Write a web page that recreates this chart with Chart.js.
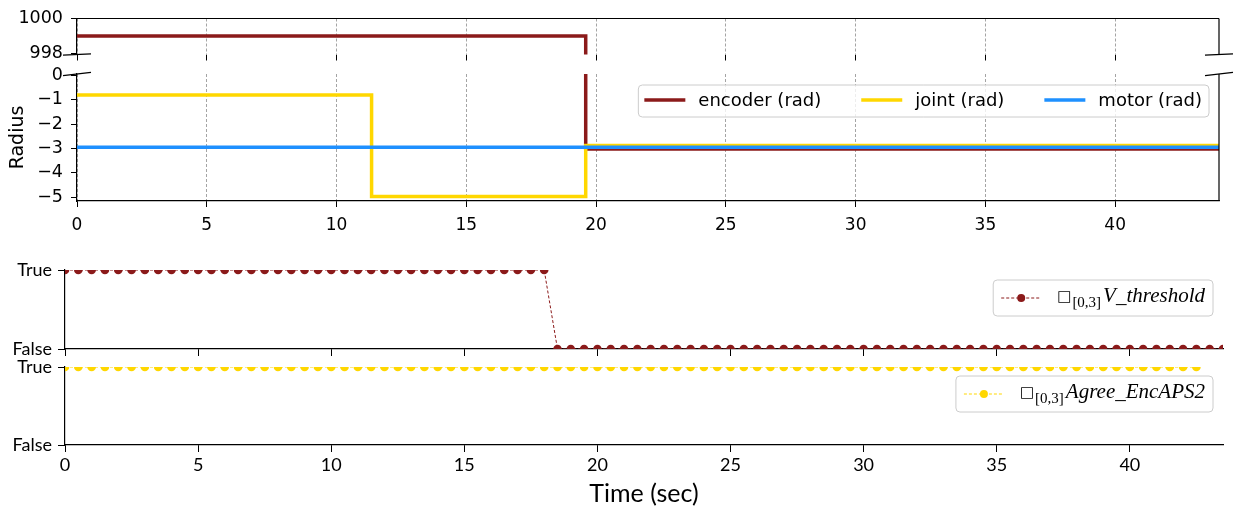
<!DOCTYPE html>
<html>
<head>
<meta charset="utf-8">
<script src="https://cdn.jsdelivr.net/npm/chart.js@4/dist/chart.umd.min.js"></script>
<style>
html, body { margin: 0; padding: 0; background: #fff; }
#wrap { position: relative; width: 1241px; height: 514px; }
#wrap div { position: absolute; left: 0; top: 0; width: 1241px; height: 514px; }
</style>
</head>
<body>
<div id="wrap">
  <div><canvas id="breakTop"></canvas></div>
  <div><canvas id="radius"></canvas></div>
  <div><canvas id="vThresh"></canvas></div>
  <div><canvas id="agree"></canvas></div>
</div>
<script>
// radius traces, values change at the listed times (sec)
var encoderTime = [0, 19.6, 44];
var encoderRad = [999.0, -3.02, -3.02];
var jointTime = [0, 11.35, 19.6, 44];
var jointRad = [-0.81, -4.97, -2.88, -2.88];
var motorTime = [0, 44];
var motorRad = [-2.95, -2.95];
var radiusLabels = ['encoder (rad)', 'joint (rad)', 'motor (rad)'];

var timeTicks = [0, 5, 10, 15, 20, 25, 30, 35, 40];
var radiusTicks = [-5, -4, -3, -2, -1, 0];
var breakTicks = [998, 1000];
var boolTicks = [0, 1];
var boolLabels = ['False', 'True'];

// monitor samples
var sampleTimes = [
  0, 0.5, 1, 1.5, 2, 2.5, 3, 3.5, 4, 4.5,
  5, 5.5, 6, 6.5, 7, 7.5, 8, 8.5, 9, 9.5,
  10, 10.5, 11, 11.5, 12, 12.5, 13, 13.5, 14, 14.5,
  15, 15.5, 16, 16.5, 17, 17.5, 18, 18.5, 19, 19.5,
  20, 20.5, 21, 21.5, 22, 22.5, 23, 23.5, 24, 24.5,
  25, 25.5, 26, 26.5, 27, 27.5, 28, 28.5, 29, 29.5,
  30, 30.5, 31, 31.5, 32, 32.5, 33, 33.5, 34, 34.5,
  35, 35.5, 36, 36.5, 37, 37.5, 38, 38.5, 39, 39.5,
  40, 40.5, 41, 41.5, 42, 42.5, 43, 43.5
];
var vThreshold = [
  1, 1, 1, 1, 1, 1, 1, 1, 1, 1,
  1, 1, 1, 1, 1, 1, 1, 1, 1, 1,
  1, 1, 1, 1, 1, 1, 1, 1, 1, 1,
  1, 1, 1, 1, 1, 1, 1, 0, 0, 0,
  0, 0, 0, 0, 0, 0, 0, 0, 0, 0,
  0, 0, 0, 0, 0, 0, 0, 0, 0, 0,
  0, 0, 0, 0, 0, 0, 0, 0, 0, 0,
  0, 0, 0, 0, 0, 0, 0, 0, 0, 0,
  0, 0, 0, 0, 0, 0, 0, 0
];
var agreeEncAPS2 = [
  1, 1, 1, 1, 1, 1, 1, 1, 1, 1,
  1, 1, 1, 1, 1, 1, 1, 1, 1, 1,
  1, 1, 1, 1, 1, 1, 1, 1, 1, 1,
  1, 1, 1, 1, 1, 1, 1, 1, 1, 1,
  1, 1, 1, 1, 1, 1, 1, 1, 1, 1,
  1, 1, 1, 1, 1, 1, 1, 1, 1, 1,
  1, 1, 1, 1, 1, 1, 1, 1, 1, 1,
  1, 1, 1, 1, 1, 1, 1, 1, 1, 1,
  1, 1, 1, 1, 1, 1
];
var propNames = ['V_threshold', 'Agree_EncAPS2'];
var boxInterval = '[0,3]';

var RED = '#8b1a1a', GOLD = '#ffd700', BLUE = '#1e90ff';
var W = 1241, H = 514;
var DV = '"DejaVu Sans"', LATO = 'Lato';

Chart.defaults.font.family = DV;
Chart.defaults.color = '#000';

function pts(t, v) {
  return t.map(function (x, i) { return { x: x, y: v[i] }; });
}
function fixTicks(list) {
  return function (s) { s.ticks = list.map(function (v) { return { value: v }; }); };
}
function plain(v) { return String(v).replace('-', '\u2212'); }

function roundBox(ctx, x, y, w, h) {
  ctx.beginPath();
  ctx.roundRect(x, y, w, h, 4);
  ctx.fillStyle = 'rgba(255,255,255,0.8)';
  ctx.fill();
  ctx.strokeStyle = '#cccccc';
  ctx.lineWidth = 1;
  ctx.stroke();
}

// extra spines (top / right)
var framePlugin = {
  id: 'frame',
  afterDraw: function (chart, args, opts) {
    var a = chart.chartArea, ctx = chart.ctx;
    ctx.save();
    ctx.strokeStyle = '#000';
    ctx.lineWidth = 1.2;
    ctx.beginPath();
    if (opts.top) { ctx.moveTo(a.left, a.top); ctx.lineTo(a.right, a.top); }
    if (opts.right) { ctx.moveTo(a.right, a.top); ctx.lineTo(a.right, a.bottom); }
    ctx.stroke();
    ctx.restore();
  }
};

// diagonal marks for the broken y axis
var breakPlugin = {
  id: 'breakMarks',
  afterDraw: function (chart, args, opts) {
    var a = chart.chartArea, ctx = chart.ctx;
    var y = opts.edge === 'bottom' ? a.bottom : a.top;
    ctx.save();
    ctx.strokeStyle = '#000';
    ctx.lineWidth = 1.3;
    [a.left, a.right].forEach(function (x) {
      ctx.beginPath();
      ctx.moveTo(x - 14, y + opts.dy);
      ctx.lineTo(x + 14, y - opts.dy);
      ctx.stroke();
    });
    ctx.restore();
  }
};

var lineLegend = {
  id: 'lineLegend',
  afterDraw: function (chart) {
    var ctx = chart.ctx, a = chart.chartArea;
    var sets = chart.data.datasets;
    ctx.save();
    ctx.font = '18px ' + DV;
    var sample = 41, gap = 13, colGap = 40, padL = 6, padR = 7;
    var widths = sets.map(function (s) { return ctx.measureText(s.label).width; });
    var total = padL + padR + colGap * (sets.length - 1);
    widths.forEach(function (w) { total += sample + gap + w; });
    var right = a.right - 10, left = right - total, top = a.top + 11;
    roundBox(ctx, left, top, total, 32);
    var x = left + padL, cy = top + 15;
    sets.forEach(function (s, i) {
      ctx.strokeStyle = s.borderColor;
      ctx.lineWidth = s.borderWidth;
      ctx.beginPath();
      ctx.moveTo(x, cy);
      ctx.lineTo(x + sample, cy);
      ctx.stroke();
      ctx.fillStyle = '#000';
      ctx.textBaseline = 'middle';
      ctx.fillText(s.label, x + sample + gap, cy + 1);
      x += sample + gap + widths[i] + colGap;
    });
    ctx.restore();
  }
};

var mathLegend = {
  id: 'mathLegend',
  afterDraw: function (chart, args, opts) {
    var ctx = chart.ctx, a = chart.chartArea;
    var s = chart.data.datasets[0];
    ctx.save();
    var fBox = '15px ' + DV, fSub = '15px "Liberation Serif"', fName = 'italic 21px "Liberation Serif"';
    ctx.font = fBox; var wBox = ctx.measureText('\u25a1').width;
    ctx.font = fSub; var wSub = ctx.measureText(boxInterval).width;
    ctx.font = fName; var wName = ctx.measureText(opts.name).width;
    var total = 8 + 40 + 16 + wBox + 1 + wSub + 2 + wName + 8;
    var right = a.right - 10, left = right - total, top = a.top + opts.top;
    roundBox(ctx, left, top, total, 36);
    var x = left + 8, cy = top + 18;
    ctx.strokeStyle = s.borderColor;
    ctx.lineWidth = 1;
    ctx.setLineDash([3, 2]);
    ctx.beginPath();
    ctx.moveTo(x, cy);
    ctx.lineTo(x + 40, cy);
    ctx.stroke();
    ctx.setLineDash([]);
    ctx.fillStyle = s.pointBackgroundColor;
    ctx.beginPath();
    ctx.arc(x + 20, cy, 4, 0, Math.PI * 2);
    ctx.fill();
    var base = top + 22;
    x += 40 + 16;
    ctx.fillStyle = '#000';
    ctx.textBaseline = 'alphabetic';
    ctx.font = fBox; ctx.fillText('\u25a1', x, base - 1);
    x += wBox + 1;
    ctx.font = fSub; ctx.fillText(boxInterval, x, base + 5);
    x += wSub + 2;
    ctx.font = fName; ctx.fillText(opts.name, x, base);
    ctx.restore();
  }
};

function radiusSets() {
  return [
    { label: radiusLabels[0], data: pts(encoderTime, encoderRad), borderColor: RED, order: 2 },
    { label: radiusLabels[1], data: pts(jointTime, jointRad), borderColor: GOLD, order: 1 },
    { label: radiusLabels[2], data: pts(motorTime, motorRad), borderColor: BLUE, order: 0 }
  ].map(function (d) {
    d.stepped = 'before';
    d.borderWidth = 3.5;
    d.pointRadius = 0;
    d.clip = 0;
    d.fill = false;
    return d;
  });
}

var baseOpts = {
  responsive: true,
  maintainAspectRatio: false,
  animation: false,
  events: []
};

function xTop(showLabels) {
  return {
    type: 'linear', min: 0, max: 44,
    afterBuildTicks: fixTicks(timeTicks),
    ticks: { display: showLabels, font: { size: 17, family: DV }, padding: 8, callback: plain },
    grid: { color: 'rgba(0,0,0,0.45)', lineWidth: 0.8, tickLength: 6, tickColor: '#000', tickWidth: 1 },
    border: { display: showLabels, color: '#000', width: 1.2, dash: [3, 2] },
    afterFit: function (s) { s.height = showLabels ? 40 : 10; }
  };
}

// upper part of the broken axis
new Chart(document.getElementById('breakTop'), {
  type: 'line',
  data: { datasets: radiusSets() },
  options: Object.assign({}, baseOpts, {
    layout: { padding: { top: 16, right: W - 1219, left: 0, bottom: H - 54.5 - 10 } },
    scales: {
      x: xTop(false),
      y: {
        min: 997.95, max: 1000,
        afterBuildTicks: fixTicks(breakTicks),
        ticks: { font: { size: 17.5, family: DV }, padding: 8, callback: plain },
        grid: { drawOnChartArea: false, tickLength: 6, tickColor: '#000' },
        border: { color: '#000', width: 1.2 },
        afterFit: function (s) { s.width = 77; }
      }
    },
    plugins: {
      legend: { display: false }, tooltip: { enabled: false },
      frame: { top: true, right: true },
      breakMarks: { edge: 'bottom', dy: 0.7 }
    }
  }),
  plugins: [framePlugin, breakPlugin]
});

// lower part of the broken axis
new Chart(document.getElementById('radius'), {
  type: 'line',
  data: { datasets: radiusSets() },
  options: Object.assign({}, baseOpts, {
    layout: { padding: { top: 74, right: W - 1219, left: 0, bottom: H - 201 - 40 } },
    scales: {
      x: xTop(true),
      y: {
        min: -5.15, max: 0.05,
        afterBuildTicks: fixTicks(radiusTicks),
        ticks: { font: { size: 17.5, family: DV }, padding: 8, callback: plain },
        grid: { drawOnChartArea: false, tickLength: 6, tickColor: '#000' },
        border: { color: '#000', width: 1.2 },
        title: { display: true, text: 'Radius', font: { size: 19, family: DV }, padding: { top: 7, bottom: 0 } },
        afterFit: function (s) { s.width = 77; }
      }
    },
    plugins: {
      legend: { display: false }, tooltip: { enabled: false },
      frame: { top: false, right: true },
      breakMarks: { edge: 'top', dy: 1.6 }
    }
  }),
  plugins: [framePlugin, breakPlugin, lineLegend]
});

function boolChart(id, values, color, name, area, showTime, legendTop) {
  var times = sampleTimes.slice(0, values.length);
  var xAxisH = showTime ? H - area.bottom : 10;
  new Chart(document.getElementById(id), {
    type: 'line',
    data: {
      datasets: [{
        label: name,
        data: pts(times, values),
        borderColor: color,
        borderWidth: 1,
        borderDash: [3, 2],
        pointRadius: 4.3,
        pointBorderWidth: 0,
        pointBackgroundColor: color,
        clip: 0,
        fill: false
      }]
    },
    options: Object.assign({}, baseOpts, {
      layout: { padding: { top: area.top, right: W - 1223, left: 0, bottom: H - area.bottom - xAxisH } },
      scales: {
        x: {
          type: 'linear', min: 0, max: 43.5,
          afterBuildTicks: fixTicks(timeTicks),
          ticks: { display: showTime, font: { size: 18, family: LATO }, padding: 2 },
          grid: { drawOnChartArea: false, tickLength: 7, tickColor: '#000', tickWidth: 1 },
          border: { color: '#000', width: 1.2 },
          title: { display: showTime, text: 'Time (sec)', font: { size: 25, family: LATO }, padding: { top: 0, bottom: 5 } },
          afterFit: function (s) { s.height = xAxisH; }
        },
        y: {
          min: 0, max: 1,
          afterBuildTicks: fixTicks(boolTicks),
          ticks: { font: { size: 18, family: LATO }, padding: 6, callback: function (v) { return boolLabels[v]; } },
          grid: { drawOnChartArea: false, tickLength: 7, tickColor: '#000', tickWidth: 1 },
          border: { color: '#000', width: 1.2 },
          afterFit: function (s) { s.width = 65; }
        }
      },
      plugins: {
        legend: { display: false }, tooltip: { enabled: false },
        mathLegend: { name: name, top: legendTop }
      }
    }),
    plugins: [mathLegend]
  });
}

boolChart('vThresh', vThreshold, RED, propNames[0], { top: 270, bottom: 349 }, false, 10);
boolChart('agree', agreeEncAPS2, GOLD, propNames[1], { top: 367, bottom: 445 }, true, 9);
</script>
</body>
</html>
